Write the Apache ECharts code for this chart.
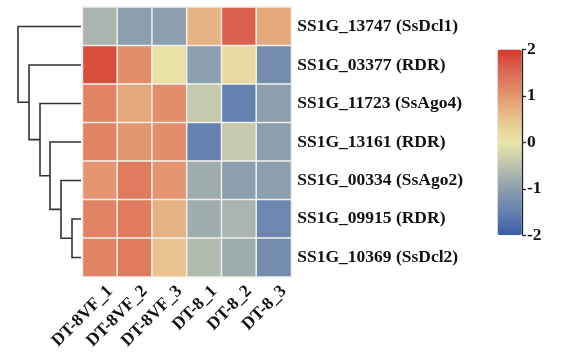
<!DOCTYPE html>
<html><head><meta charset="utf-8">
<script src="https://cdn.jsdelivr.net/npm/echarts@6/dist/echarts.min.js"></script>
<style>html,body{margin:0;padding:0;background:#fff}#c{width:565px;height:355px}</style>
</head><body><div id="c"></div>
<script>
var samples = ['DT-8VF_1','DT-8VF_2','DT-8VF_3','DT-8_1','DT-8_2','DT-8_3'];
var genes = ['SS1G_13747 (SsDcl1)','SS1G_03377 (RDR)','SS1G_11723 (SsAgo4)','SS1G_13161 (RDR)','SS1G_00334 (SsAgo2)','SS1G_09915 (RDR)','SS1G_10369 (SsDcl2)'];
var rowSS1G_13747 = [-0.7,-1.0,-1.0,0.7,1.6,0.8];
var rowSS1G_03377 = [1.8,1.1,0.1,-1.0,0.2,-1.3];
var rowSS1G_11723 = [1.2,0.8,1.1,-0.4,-1.5,-1.0];
var rowSS1G_13161 = [1.2,1.0,1.1,-1.5,-0.4,-1.0];
var rowSS1G_00334 = [1.0,1.3,1.0,-0.8,-1.0,-1.0];
var rowSS1G_09915 = [1.2,1.3,0.7,-0.8,-0.7,-1.4];
var rowSS1G_10369 = [1.2,1.3,0.5,-0.6,-0.8,-1.3];
var colorTicks = [2,1,0,-1,-2];
// dendrogram merges: [childA, childB, height]; leaves 0..6, new clusters 7..
var merges = [[5,6,0.9],[4,7,2.0],[3,8,3.1],[2,9,4.1],[1,10,5.2],[0,11,6.3]];

var rows = [rowSS1G_13747,rowSS1G_03377,rowSS1G_11723,rowSS1G_13161,rowSS1G_00334,rowSS1G_09915,rowSS1G_10369];
var heat = [];
rows.forEach(function(r,i){ r.forEach(function(v,j){ heat.push([j,i,v]); }); });

var nodes = [];
for (var i=0;i<genes.length;i++) nodes.push({x:0,y:i});
var segs = [];
merges.forEach(function(m){
  var a=nodes[m[0]], b=nodes[m[1]], h=m[2];
  segs.push({coords:[[a.x,a.y],[h,a.y],[h,b.y],[b.x,b.y]]});
  nodes.push({x:h,y:(a.y+b.y)/2});
});

var TOP=7.3, H=269.4;
var chart = echarts.init(document.getElementById('c'));
chart.setOption({
  animation:false,
  textStyle:{fontFamily:'Liberation Serif'},
  grid:[
    {left:82.7, top:TOP, width:208.5, height:H},
    {left:18, top:TOP, width:63, height:H},
    {left:497.5, top:49.5, width:25, height:185.8},
    {left:92.7, top:TOP, width:208.5, height:H}
  ],
  xAxis:[
    {type:'category', data:samples, gridIndex:0, axisLine:{show:false}, axisTick:{show:false}, splitLine:{show:false}, axisLabel:{show:false}},
    {type:'value', gridIndex:1, min:0, max:6.3, inverse:true, show:false},
    {type:'value', gridIndex:2, show:false, min:0, max:1},
    {type:'category', data:samples, gridIndex:3, axisLine:{show:false}, axisTick:{show:false}, splitLine:{show:false},
     axisLabel:{rotate:45, fontWeight:'bold', fontSize:17.5, color:'#111', margin:12, interval:0}}
  ],
  yAxis:[
    {type:'category', data:genes, gridIndex:0, inverse:true, position:'right', axisLine:{show:false}, axisTick:{show:false},
     axisLabel:{fontWeight:'bold', fontSize:17.5, color:'#111', margin:6}},
    {type:'value', gridIndex:1, min:-0.5, max:6.5, inverse:true, show:false},
    {type:'value', gridIndex:2, min:-2, max:2, interval:1, position:'right', z:10,
     axisLine:{show:true, onZero:false, lineStyle:{color:'#222', width:1.3}}, axisTick:{show:true, length:3.5, lineStyle:{color:'#222', width:1.3}},
     splitLine:{show:false}, axisLabel:{fontWeight:'bold', fontSize:17.5, color:'#111', margin:4.5}},
    {type:'value', gridIndex:3, show:false}
  ],
  visualMap:{
    type:'continuous', min:-2, max:2, seriesIndex:0, calculable:false, showLabel:false, text:null, z:1,
    orient:'vertical', left:497.5, top:49.5, itemWidth:24.3, itemHeight:185.8, padding:0,
    inRange:{color:['#3a5ca8','#6581b0','#8c9fae','#bcc3ae','#e9e7ab','#e8c38f','#e39670','#dd6a55','#d5392e']}
  },
  series:[
    {type:'heatmap', data:heat, xAxisIndex:0, yAxisIndex:0,
     itemStyle:{borderColor:'#f2efea', borderWidth:1.5}},
    {type:'lines', coordinateSystem:'cartesian2d', xAxisIndex:1, yAxisIndex:1, polyline:true,
     data:segs, lineStyle:{color:'#333', width:1.6, opacity:1}, silent:true}
  ]
});
</script></body></html>
